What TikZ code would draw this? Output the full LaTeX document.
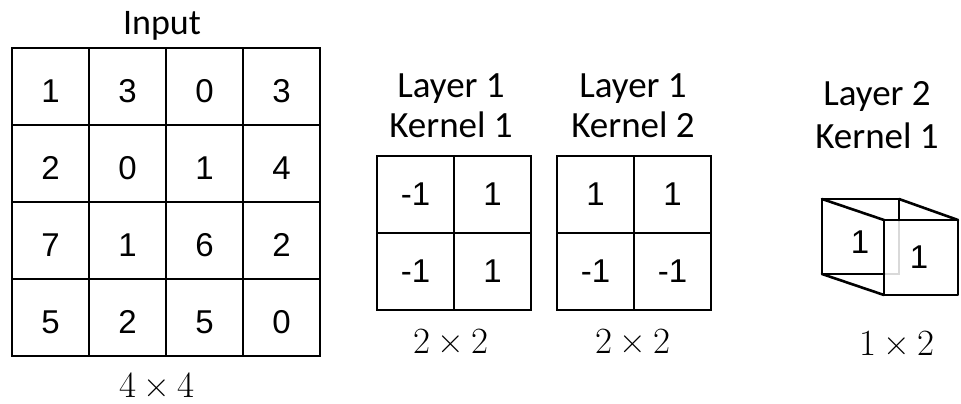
\documentclass[tikz,border=0pt]{standalone}
\usepackage{fontspec}
\newfontfamily\arialf{Liberation Sans}
\newfontfamily\calib{Carlito}
\newfontfamily\lmr{Latin Modern Roman}
\newcommand{\bytimes}[2]{#1\hspace{0.2em}×\hspace{0.2em}#2}
\begin{document}
\begin{tikzpicture}[x=1pt,y=-1pt,
  cell/.style={draw,line width=2.6pt,minimum size=77pt,inner sep=0pt,text height=31pt,text depth=0pt,font=\arialf\fontsize{33}{33}\selectfont},
  kcell/.style={draw,line width=2.6pt,minimum size=77pt,inner sep=0pt,font=\arialf\fontsize{33}{33}\selectfont},
  title/.style={font=\calib\fontsize{36}{36}\selectfont,inner sep=0pt,anchor=base},
  ltitle/.style={font=\calib\fontsize{37}{40}\selectfont,inner sep=0pt,anchor=base},
  digit/.style={font=\arialf\fontsize{33}{33}\selectfont,inner sep=0pt,anchor=base},
  dim/.style={font=\lmr\fontsize{37}{37}\selectfont,inner sep=0pt,anchor=base},
  edge/.style={line width=2.6pt,line cap=round,line join=round},
  hidden/.style={line width=1.5pt,black!15}]
\useasboundingbox (0,0) rectangle (961,404);
% Input grid
\foreach \r/\vals in {1/{1,3,0,3},2/{2,0,1,4},3/{7,1,6,2},4/{5,2,5,0}}{
  \foreach \v [count=\c] in \vals {
    \node[cell] (in-\r-\c) at ({12+77*(\c-0.5)},{48+77*(\r-0.5)}) {\v};
  }
}
\node[title] (input) at (162,35) {Input};
\node[dim] (d44) at (157,397) {\bytimes{4}{4}};
% Kernel 1
\node[ltitle] (k1a) at (451,97) {Layer 1};
\node[ltitle] (k1b) at (451,137) {Kernel 1};
\node[kcell] (k1-1-1) at (415.5,194.5) {-1};
\node[kcell] (k1-1-2) at (492.5,194.5) {1};
\node[kcell] (k1-2-1) at (415.5,271.5) {-1};
\node[kcell] (k1-2-2) at (492.5,271.5) {1};
\node[dim] (d22a) at (451,353) {\bytimes{2}{2}};
% Kernel 2
\node[ltitle] (k2a) at (633,97) {Layer 1};
\node[ltitle] (k2b) at (633,137) {Kernel 2};
\node[kcell] (k2-1-1) at (595.5,194.5) {1};
\node[kcell] (k2-1-2) at (672.5,194.5) {1};
\node[kcell] (k2-2-1) at (595.5,271.5) {-1};
\node[kcell] (k2-2-2) at (672.5,271.5) {-1};
\node[dim] (d22b) at (633,353) {\bytimes{2}{2}};
% Layer 2 cube
\node[ltitle] (l2a) at (877,105) {Layer 2};
\node[ltitle] (l2b) at (877,148) {Kernel 1};
\coordinate (btl) at (822,199);
\coordinate (btr) at (899,199);
\coordinate (bbl) at (822,274);
\coordinate (bbr) at (899,274);
\coordinate (ftl) at (884,220);
\coordinate (ftr) at (958,220);
\coordinate (fbl) at (884,295);
\coordinate (fbr) at (958,295);
\coordinate (bri) at (899,220);
\coordinate (bbi) at (884,274);
\draw[hidden] (bri) -- (bbr) -- (bbi);
\draw[edge] (bri) -- (btr) -- (btl) -- (bbl) -- (bbi);
\draw[edge] (btl) -- (ftl);
\draw[edge] (btr) -- (ftr);
\draw[edge] (bbl) -- (fbl);
\draw[edge] (ftl) rectangle (fbr);
\node[digit] (cb1) at (860,253) {1};
\node[digit] (cf1) at (919,268) {1};
\node[dim] (d12) at (897,355) {\bytimes{1}{2}};
\end{tikzpicture}
\end{document}
